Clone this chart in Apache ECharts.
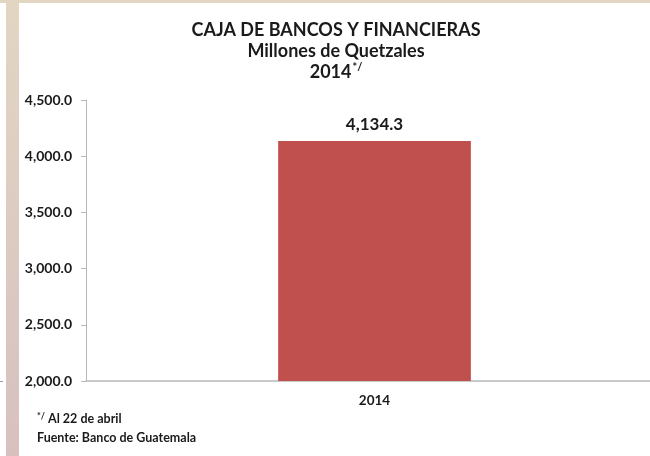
<!DOCTYPE html>
<html>
<head>
<meta charset="utf-8">
<script src="https://cdn.jsdelivr.net/npm/echarts@6/dist/echarts.min.js"></script>
<style>
  html, body { margin: 0; padding: 0; background: #fff; }
  #main { width: 650px; height: 456px; }
</style>
</head>
<body>
<div id="main"></div>
<script>
// data
var years = ['2014'];
var cajaValues = [4134.3];
var yMin = 2000, yMax = 4500, yStep = 500;

var FONT = 'Lato';

function fmt(v) {
  return v.toLocaleString('en-US', { minimumFractionDigits: 1, maximumFractionDigits: 1 });
}

var chart = echarts.init(document.getElementById('main'), null, { renderer: 'canvas' });

var option = {
  backgroundColor: '#ffffff',
  animation: false,
  title: {
    text: 'CAJA DE BANCOS Y FINANCIERAS\nMillones de Quetzales\n2014{sup|*/}',
    left: 331,
    top: 15,
    textAlign: 'center',
    textStyle: {
      fontFamily: FONT,
      fontWeight: 'bold',
      fontSize: 18,
      color: '#1a1a1a',
      lineHeight: 21,
      rich: {
        sup: { fontFamily: FONT, fontWeight: 'bold', fontSize: 11, color: '#1a1a1a', verticalAlign: 'top', padding: [0, 0, 9, 1] }
      }
    }
  },
  grid: { left: 86, width: 577, top: 100, bottom: 75, containLabel: false, outerBoundsMode: 'none' },
  xAxis: {
    type: 'category',
    data: years,
    axisLine: { lineStyle: { color: '#b8b8b8', width: 1.5 } },
    axisTick: { show: false },
    axisLabel: { margin: 13, fontFamily: FONT, fontWeight: 'bold', fontSize: 13.5, color: '#1a1a1a' }
  },
  yAxis: {
    type: 'value',
    min: yMin,
    max: yMax,
    interval: yStep,
    axisLine: { show: true, lineStyle: { color: '#b8b8b8', width: 1 } },
    axisTick: { show: true, length: 5, lineStyle: { color: '#b8b8b8' } },
    splitLine: { show: false },
    axisLabel: {
      margin: 14,
      fontFamily: FONT,
      fontWeight: 'bold',
      fontSize: 14,
      color: '#1a1a1a',
      formatter: function (v) { return fmt(v); }
    }
  },
  series: [{
    type: 'bar',
    data: cajaValues,
    barWidth: '33.4%',
    itemStyle: { color: '#c0504d' },
    label: {
      show: true,
      position: 'top',
      distance: 8,
      fontFamily: FONT,
      fontWeight: 'bold',
      fontSize: 17,
      color: '#1a1a1a',
      formatter: function (p) { return fmt(p.value); }
    }
  }],
  graphic: [
    // slide frame strips
    {
      type: 'rect', left: 0, top: 0, z: -1,
      shape: { width: 650, height: 3 },
      style: { fill: '#e2d6c2' }
    },
    {
      type: 'rect', left: 6, top: 0, z: -1,
      shape: { width: 13, height: 456 },
      style: {
        fill: new echarts.graphic.LinearGradient(0, 0, 0, 1, [
          { offset: 0, color: '#e2d6c2' },
          { offset: 1, color: '#d8c0c0' }
        ])
      }
    },
    {
      type: 'line', z: -1,
      shape: { x1: 0, y1: 381.5, x2: 3, y2: 381.5 },
      style: { stroke: '#9a9a9a', lineWidth: 1 }
    },
    {
      type: 'text', left: 37, top: 412,
      style: {
        text: '{sup|*/} Al 22 de abril',
        font: 'bold 12.5px ' + FONT,
        fill: '#1a1a1a',
        rich: { sup: { fontSize: 9, fontWeight: 'bold', fontFamily: FONT, padding: [0, 0, 5, 0] } }
      }
    },
    {
      type: 'text', left: 37, top: 431,
      style: { text: 'Fuente: Banco de Guatemala', font: 'bold 12.5px ' + FONT, fill: '#1a1a1a' }
    }
  ]
};

chart.setOption(option);
</script>
</body>
</html>
